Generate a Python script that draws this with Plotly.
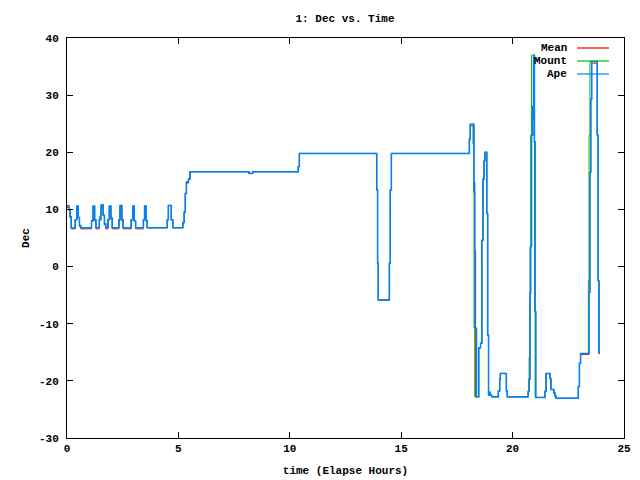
import plotly.graph_objects as go

# time (hours), Ape, Mount, Mean
t = [0.00, 0.10, 0.14, 0.19, 0.37, 0.44, 0.50, 0.56, 0.62, 1.10, 1.17, 1.24, 1.30,
     1.45, 1.52, 1.56, 1.62, 1.68, 1.74, 1.84, 1.90, 1.97, 2.03, 2.33, 2.38, 2.46,
     2.52, 2.88, 2.95, 3.02, 3.08, 3.43, 3.48, 3.55, 3.60, 4.50, 4.55, 4.68, 4.75,
     5.20, 5.26, 5.31, 5.36, 5.45, 5.52, 8.17, 8.33, 10.38, 10.43, 13.90, 13.94,
     13.97, 14.47, 14.51, 14.56, 18.06, 18.10, 18.22, 18.25, 18.27, 18.30, 18.33,
     18.38, 18.48, 18.56, 18.62, 18.67, 18.72, 18.76, 18.84, 18.88, 18.92, 18.97,
     19.00, 19.06, 19.36, 19.42, 19.45, 19.72, 19.76, 20.70, 20.74, 20.78, 20.81,
     20.85, 20.90, 20.94, 20.98, 21.01, 21.04, 21.45, 21.50, 21.68, 21.72, 21.85,
     21.90, 21.95, 22.95, 23.00, 23.05, 23.40, 23.43, 23.47, 23.51, 23.55, 23.80,
     23.84, 23.88]

ape = [10.4, 9.9, 8.7, 6.8, 8.2, 10.6, 8.6, 7.2, 6.8, 8.0, 10.6, 8.2, 6.8,
       8.2, 10.2, 10.8, 9.0, 7.5, 6.8, 8.2, 10.6, 8.5, 6.8, 8.2, 10.7, 8.2,
       6.8, 8.2, 10.6, 8.0, 6.8, 8.2, 10.6, 8.0, 6.8, 8.2, 10.7, 8.2, 6.8,
       7.7, 9.6, 12.8, 14.85, 15.3, 16.6, 16.3, 16.6, 17.5, 19.8, 13.4, 0.6,
       -5.85, 0.6, 13.4, 19.8, 22.3, 24.9, 24.9, 24.9, 14.6, 2.6, -10.8,
       -22.8, -14.2, -13.4, 4.6, 15.3, 18.5, 20.0, 9.3, -12.0, -22.5, -22.0,
       -22.5, -22.8, -21.8, -19.7, -18.7, -21.8, -22.8, -21.8, -19.7, -4.7, 3.5,
       23.0, 28.0, 37.0, 21.85, -7.9, -22.9, -21.8, -18.7, -19.6, -21.5, -22.1,
       -22.65, -23.05, -21.0, -16.9, -15.2, -15.2, -4.5, 16.5, 29.3, 35.9, 23.0,
       -2.5, -15.3]

mount = [10.4, 9.9, 8.7, 6.8, 8.2, 10.6, 8.6, 7.2, 6.8, 8.0, 10.6, 8.2, 6.8,
         8.8, 10.8, 10.8, 9.0, 7.5, 6.8, 8.2, 10.6, 8.5, 6.8, 8.2, 10.7, 8.2,
         6.8, 8.2, 10.6, 8.0, 6.8, 8.2, 10.6, 8.0, 6.8, 8.2, 10.7, 8.2, 6.8,
         7.7, 9.6, 12.8, 14.85, 15.3, 16.6, 16.3, 16.6, 17.5, 19.8, 13.4, 0.6,
         -5.85, 0.6, 13.4, 19.8, 22.3, 24.9, 21.4, 13.0, -10.8, -22.8, -22.8,
         -22.8, -14.2, -13.4, 4.6, 15.3, 18.5, 20.0, 9.3, -12.0, -22.5, -22.0,
         -22.5, -22.8, -21.8, -19.7, -18.7, -21.8, -22.8, -21.8, -15.8, 3.5, 23.0,
         37.0, 37.0, 25.8, -7.9, -22.9, -22.9, -21.8, -18.7, -19.6, -21.5, -22.1,
         -22.65, -23.05, -21.0, -16.9, -15.2, -2.5, 23.0, 35.9, 35.9, 35.9, 23.0,
         -2.5, -15.3]

mean = [10.7, 9.9, 8.5, 6.6, 8.2, 10.5, 8.6, 7.0, 6.6, 8.0, 10.5, 8.0, 6.6,
        8.2, 10.6, 10.6, 9.0, 7.3, 6.6, 8.2, 10.5, 8.3, 6.6, 8.2, 10.6, 8.0,
        6.6, 8.2, 10.5, 8.0, 6.6, 8.2, 10.5, 8.0, 6.8, 8.2, 10.7, 8.2, 6.8,
        7.7, 9.4, 12.8, 14.6, 15.3, 16.6, 16.3, 16.6, 17.5, 19.8, 13.4, 0.6,
        -5.85, 0.6, 13.4, 19.8, 22.3, 24.6, 24.6, 13.0, 13.0, -10.8, -22.8,
        -22.8, -14.2, -13.4, 4.6, 15.3, 18.5, 20.0, 9.3, -12.0, -22.5, -22.0,
        -22.5, -22.8, -21.8, -19.7, -18.7, -21.8, -22.8, -21.8, -19.7, -4.7, 3.5,
        23.0, 28.0, 37.0, 21.85, -7.9, -22.9, -21.8, -18.7, -19.6, -21.5, -22.1,
        -22.65, -23.05, -21.0, -16.9, -15.4, -15.4, -4.5, 16.5, 29.3, 35.6, 23.0,
        -2.5, -15.3]

series_names = ["Mean", "Mount", "Ape"]
series_colors = ["#ff0000", "#00c000", "#0080ff"]
series_widths = [1.0, 1.0, 1.5]
series_values = [mean, mount, ape]

x_ticks = [0, 5, 10, 15, 20, 25]
y_ticks = [-30, -20, -10, 0, 10, 20, 30, 40]

FONT = "Liberation Mono"
FS = 11

fig = go.Figure()
for name, col, w, vals in zip(series_names, series_colors, series_widths, series_values):
    fig.add_trace(go.Scatter(x=t, y=vals, mode="lines", name=name,
                             line=dict(color=col, width=w, shape="hv"),
                             showlegend=False))

axis_common = dict(showline=True, linecolor="black", linewidth=1, mirror="ticks",
                   ticks="inside", ticklen=6, tickcolor="black", showgrid=False,
                   zeroline=False, automargin=False,
                   tickfont=dict(family=FONT, size=FS, color="black", weight="bold"))

fig.update_xaxes(range=[0, 25], tickvals=x_ticks, ticktext=[str(v) for v in x_ticks],
                 title=dict(text="time (Elapse Hours)", standoff=12,
                            font=dict(family=FONT, size=FS, color="black", weight="bold")),
                 **axis_common)
fig.update_yaxes(range=[-30, 40], tickvals=y_ticks, ticktext=[str(v) for v in y_ticks],
                 ticklabelstandoff=5,
                 title=dict(text="Dec", standoff=7,
                            font=dict(family=FONT, size=FS, color="black", weight="bold")),
                 **axis_common)

# legend drawn gnuplot-style: right-aligned text, sample line to the right
legend_y_px = [48, 61, 74]
for name, col, py in zip(series_names, series_colors, legend_y_px):
    yp = (438 - py) / 400
    fig.add_annotation(xref="paper", yref="paper", x=(569 - 67) / 557, y=yp,
                       text=name, showarrow=False, xanchor="right", yanchor="middle",
                       font=dict(family=FONT, size=FS, color="black", weight="bold"))
    fig.add_shape(type="line", xref="paper", yref="paper",
                  x0=(577 - 67) / 557, x1=(609 - 67) / 557, y0=yp, y1=yp,
                  line=dict(color=col, width=1.2))

fig.update_layout(
    width=640, height=480,
    margin=dict(l=67, r=16, t=38, b=42, autoexpand=False),
    paper_bgcolor="white", plot_bgcolor="white",
    title=dict(text="1: Dec vs. Time", x=345 / 640, xanchor="center",
               y=1 - 18 / 480, yanchor="middle",
               font=dict(family=FONT, size=FS, color="black", weight="bold")),
)

fig.write_html("out.html")
